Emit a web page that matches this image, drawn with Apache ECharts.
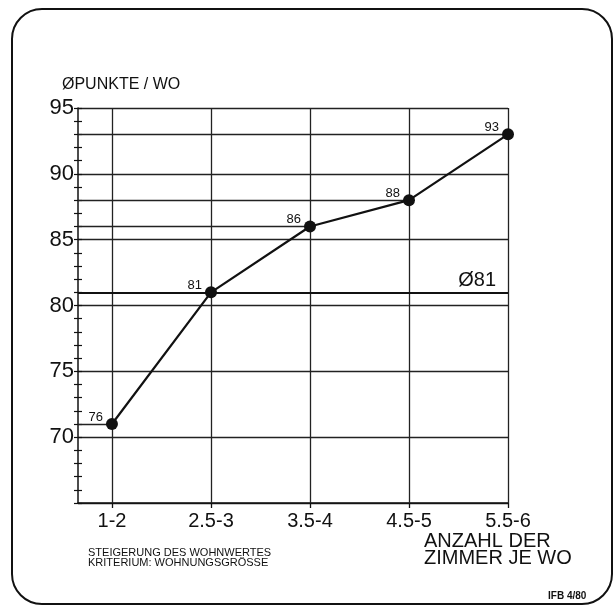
<!DOCTYPE html>
<html>
<head>
<meta charset="utf-8">
<script src="https://cdn.jsdelivr.net/npm/echarts@6/dist/echarts.min.js"></script>
<style>
html,body{margin:0;padding:0;background:#fff;}
#chart{width:615px;height:608px;}
</style>
</head>
<body>
<div id="chart"></div>
<script>
// ---- data ----
const categories = ["1-2", "2.5-3", "3.5-4", "4.5-5", "5.5-6"];
const punkte = [71, 81, 86, 88, 93];
const pointLabels = ["76", "81", "86", "88", "93"];
const averageValue = 81;
const averageLabel = "Ø81";
const yAxisTitle = "ØPUNKTE / WO";
const xAxisTitle = ["ANZAHL DER", "ZIMMER JE WO"];
const noteLines = ["STEIGERUNG DES WOHNWERTES", "KRITERIUM: WOHNUNGSGRÖSSE"];
const sourceNote = "IFB 4/80";

// ---- layout ----
const xMin = 0.657, xMax = 5;
const FONT = "'Liberation Sans', Arial, sans-serif";
const NARROW = "'Liberation Sans Narrow', 'Liberation Sans', sans-serif";
const INK = '#111';

const chart = echarts.init(document.getElementById('chart'), null, {renderer: 'canvas'});

const positions = categories.map((c, i) => i + 1);
const lineData = punkte.map((v, i) => [positions[i], v]);

const gridStyle = {color: '#222', width: 1.3, type: 'solid'};

const markData = [];
positions.forEach(p => markData.push({xAxis: p, lineStyle: gridStyle, label: {show: false}}));
punkte.forEach((v, i) => {
  if (v === averageValue) return;
  markData.push([
    {coord: [xMin, v], lineStyle: gridStyle, label: {show: false}},
    {coord: [positions[i], v]}
  ]);
});
markData.push({
  yAxis: averageValue,
  lineStyle: {color: INK, width: 2.2, type: 'solid'},
  label: {
    show: true, position: 'insideEndTop', formatter: averageLabel,
    color: INK, fontFamily: FONT, fontSize: 20, padding: [0, 10, 0, 0], distance: 2
  }
});

const option = {
  backgroundColor: '#fff',
  animation: false,
  grid: {left: 78, right: 107, top: 108, bottom: 105, containLabel: false},
  xAxis: {
    type: 'value', min: xMin, max: xMax,
    axisLine: {show: true, lineStyle: {color: INK, width: 1.5}},
    axisTick: {show: true, customValues: positions, length: 5, lineStyle: {color: INK, width: 1.3}},
    axisLabel: {
      show: true, customValues: positions,
      formatter: v => categories[Math.round(v) - 1] || '',
      color: INK, fontFamily: FONT, fontSize: 20, margin: 8
    },
    splitLine: {show: false}
  },
  yAxis: [{
    type: 'value', min: 65, max: 95, interval: 5, position: 'left',
    axisLine: {show: true, lineStyle: {color: INK, width: 1.5}},
    axisTick: {show: true, length: 4, lineStyle: {color: INK, width: 1.2}},
    minorTick: {show: true, splitNumber: 5, length: 4, lineStyle: {color: INK, width: 1.2}},
    axisLabel: {color: INK, fontFamily: FONT, fontSize: 22, margin: 4,
      formatter: v => v === 65 ? '' : String(v)},
    splitLine: {show: true, lineStyle: gridStyle}
  }, {
    type: 'value', min: 65, max: 95, interval: 5, position: 'left', offset: 0,
    axisLine: {show: false},
    axisTick: {show: true, inside: true, length: 4, lineStyle: {color: INK, width: 1.2}},
    minorTick: {show: true, splitNumber: 5, length: 4, lineStyle: {color: INK, width: 1.2}},
    axisLabel: {show: false},
    splitLine: {show: false}
  }],
  graphic: [
    {type: 'rect', silent: true, z: -1,
     shape: {x: 12, y: 9, width: 600, height: 595, r: 30},
     style: {fill: 'none', stroke: INK, lineWidth: 2}},
    {type: 'text', left: 62, top: 77,
     style: {text: yAxisTitle, font: `16px ${FONT}`, fill: INK}},
    {type: 'text', left: 424, top: 531,
     style: {text: xAxisTitle.join('\n'), font: `20px ${FONT}`, lineHeight: 17, fill: INK}},
    {type: 'text', left: 88, top: 547,
     style: {text: noteLines.join('\n'), font: `11px ${FONT}`, lineHeight: 10, fill: INK}},
    {type: 'text', left: 548, top: 591,
     style: {text: sourceNote, font: `bold 10px ${NARROW}`, fill: INK}}
  ],
  series: [{
    type: 'line',
    yAxisIndex: 0,
    data: lineData,
    symbol: 'circle', symbolSize: 12,
    itemStyle: {color: INK},
    lineStyle: {color: INK, width: 2.2},
    label: {
      show: true, position: 'left', distance: 3, offset: [0, -7],
      formatter: p => pointLabels[p.dataIndex],
      color: INK, fontFamily: NARROW, fontSize: 13
    },
    markLine: {
      silent: true, symbol: ['none', 'none'], animation: false,
      data: markData
    },
    z: 5
  }]
};
chart.setOption(option);
</script>
</body>
</html>
